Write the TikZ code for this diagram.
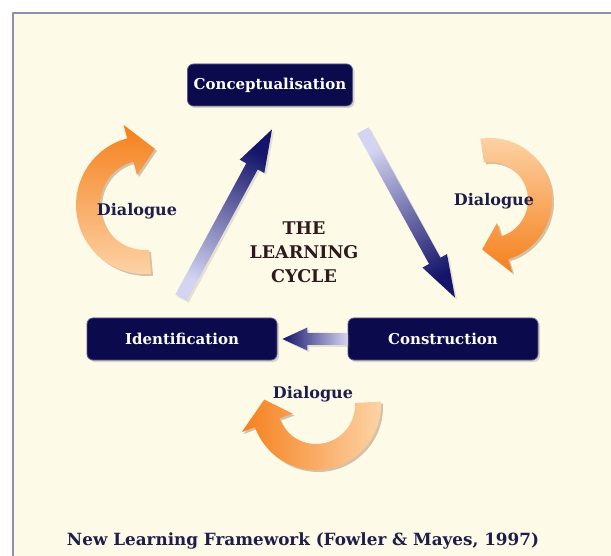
\documentclass[tikz,border=0pt]{standalone}
\usepackage{fontspec}
\setmainfont{DejaVu Serif}
\usepackage{tikz}
\usetikzlibrary{calc,shadows}
\definecolor{cream}{HTML}{FEFAE8}
\definecolor{framecol}{HTML}{8C90A8}
\definecolor{navy}{HTML}{0A0A4C}
\definecolor{boxedge}{HTML}{5A5A8A}
\definecolor{dlgcol}{HTML}{1E1E4A}
\definecolor{cyclecol}{HTML}{2E1A1E}
\definecolor{orangedk}{HTML}{F5801C}
\definecolor{orangelt}{HTML}{FDD4A8}
\definecolor{flowdk}{HTML}{14146A}
\definecolor{flowlt}{HTML}{D4D4F2}

\begin{document}
\begin{tikzpicture}[x=1pt, y=-1pt,
        line join=round,
        stage/.style={rounded corners=6pt, fill=navy, draw=boxedge, line width=0.8pt,
            text=white, font=\fontsize{15}{17}\selectfont\bfseries,
            minimum height=42pt, minimum width=190pt,
            drop shadow={shadow xshift=2pt, shadow yshift=-2pt, opacity=0.3}},
        dialogue/.style={text=dlgcol, font=\fontsize{16}{18}\selectfont\bfseries},
        flow/.style={top color=flowdk, bottom color=flowlt,
            drop shadow={shadow xshift=2pt, shadow yshift=-2pt, opacity=0.2}},
        loop/.style={drop shadow={shadow xshift=2pt, shadow yshift=-2pt, opacity=0.35, fill=brown!70!black}}]
        \useasboundingbox (0,0) rectangle (611,556);

        \def\shaftW{6.5}
        \def\headW{14}
        \def\headL{42}

        \def\drawFlow#1#2#3{ % shaded straight arrow from #1 to #2, shading turned by #3
        \coordinate (hb) at ($(#2)!\headL pt!(#1)$);
        \shade[flow, shading angle=#3]
        ($(#1)!\shaftW pt!90:(#2)$) -- ($(hb)!\shaftW pt!90:(#2)$) -- ($(hb)!\headW pt!90:(#2)$)
        -- (#2) -- ($(hb)!\headW pt!-90:(#2)$) -- ($(hb)!\shaftW pt!-90:(#2)$)
        -- ($(#1)!\shaftW pt!-90:(#2)$) -- cycle;
        }
        \def\drawLoop#1#2#3#4#5#6#7{ % curved band round #1: radius, half width, start, head, tip
        \shade[loop, #7] ($(#1)+({#4}:{#2+#3})$) arc[start angle=#4, end angle=#5, radius=#2+#3]
        -- ($(#1)+({#5}:{#2+#3+14})$) -- ($(#1)+({#6}:{#2})$)
        -- ($(#1)+({#5}:{#2-#3-14})$) -- ($(#1)+({#5}:{#2-#3})$)
        arc[start angle=#5, end angle=#4, radius=#2-#3] -- cycle;
        }

        % BACKGROUND
        \fill[white] (0,0) rectangle (611,556);
        \fill[cream] (13,13) rectangle (611,556);
        \draw[framecol, line width=2pt] (13,556) -- (13,13) -- (611,13);

        % dialogue loops
        \coordinate (leftLoop) at (145,205);
        \coordinate (rightLoop) at (490,200);
        \coordinate (bottomLoop) at (316,405);
        \drawLoop{leftLoop}{57}{12}{85}{255}{280}{top color=orangedk, bottom color=orangelt}
        \drawLoop{rightLoop}{50}{12}{-99}{73}{99}{top color=orangelt, bottom color=orangedk}
        \drawLoop{bottomLoop}{52}{13}{-3}{160}{186}{left color=orangedk, right color=orangelt}

        % stages
        \node[stage, minimum width=165pt] (concept) at (270,85) {Conceptualisation};
        \node[stage] (ident) at (182,339) {Identification};
        \node[stage] (constr) at (443,339) {Construction};

        % cycle arrows
        \coordinate (upTail) at ($(ident.north)+(-1,-20)$);
        \coordinate (upTip) at ($(concept.south)+(2,23)$);
        \coordinate (downTail) at ($(concept.south east)+(10,24)$);
        \coordinate (downTip) at ($(constr.north)+(12,-20)$);
        \coordinate (backTip) at ($(ident.east)+(5,0)$);
        \drawFlow{upTail}{upTip}{-28.4}
        \drawFlow{downTail}{downTip}{-151}
        \def\shaftW{6}
        \def\headW{11.5}
        \def\headL{25}
        \drawFlow{constr.west}{backTip}{90}

        \node[dialogue] (dlgLeft) at (137,211) {Dialogue};
        \node[dialogue] (dlgRight) at (494,201) {Dialogue};
        \node[dialogue] (dlgBottom) at (313,394) {Dialogue};
        \node[text=cyclecol, align=center, font=\fontsize{17.5}{24}\selectfont\bfseries] (cycle) at (304,252) {THE\\LEARNING\\CYCLE};
        \node[text=dlgcol, font=\fontsize{16.8}{19}\selectfont\bfseries] (caption) at (303,541) {New Learning Framework (Fowler \& Mayes, 1997)};
    \end{tikzpicture}
\end{document}
